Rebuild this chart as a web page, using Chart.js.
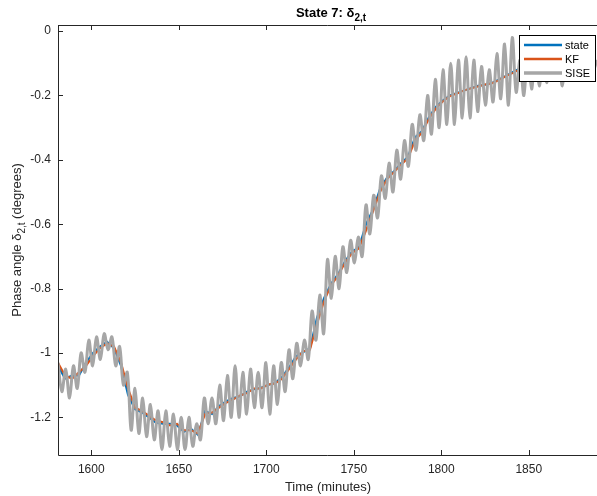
<!DOCTYPE html>
<html>
<head>
<meta charset="utf-8">
<script src="https://cdn.jsdelivr.net/npm/chart.js@4/dist/chart.umd.min.js"></script>
<style>
  html, body { margin: 0; padding: 0; background: #fff; overflow: hidden; }
</style>
</head>
<body>
<canvas id="chart" width="597" height="496"></canvas>
<script>
// time axis (minutes)
const stateStart = 1581, stateStep = 4;
const siseStart = 1581, siseStep = 2.2;
const xTicks = [1600, 1650, 1700, 1750, 1800, 1850];
const yTicks = [0, -0.2, -0.4, -0.6, -0.8, -1, -1.2];

// true state, every 4 min
const stateVals = [
  -1.04, -1.08, -1.07, -1.07, -1.03, -1.00, -0.98, -0.965, -0.985, -1.04,
  -1.13, -1.175, -1.185, -1.20, -1.217, -1.22, -1.22, -1.225, -1.245, -1.235,
  -1.255, -1.18, -1.19, -1.165, -1.15, -1.14, -1.135, -1.12, -1.113, -1.108,
  -1.10, -1.093, -1.075, -1.045, -1.01, -0.998, -0.985, -0.89, -0.83, -0.785,
  -0.755, -0.715, -0.685, -0.672, -0.60, -0.555, -0.49, -0.455, -0.435, -0.41,
  -0.39, -0.33, -0.31, -0.267, -0.235, -0.215, -0.20, -0.192, -0.185, -0.177,
  -0.17, -0.167, -0.161, -0.15, -0.139, -0.127, -0.116, -0.11, -0.108, -0.106,
  -0.104, -0.10, -0.10, -0.098, -0.10, -0.10, -0.098, -0.10
];

// Kalman filter estimate
const kfVals = [
  -1.03, -1.07, -1.08, -1.06, -1.04, -1.01, -0.985, -0.97, -0.98, -1.03,
  -1.11, -1.17, -1.18, -1.195, -1.21, -1.215, -1.225, -1.22, -1.24, -1.24,
  -1.25, -1.19, -1.185, -1.17, -1.155, -1.145, -1.132, -1.125, -1.11, -1.11,
  -1.098, -1.095, -1.08, -1.05, -1.02, -0.995, -0.99, -0.91, -0.84, -0.79,
  -0.76, -0.72, -0.69, -0.675, -0.62, -0.56, -0.50, -0.46, -0.438, -0.415,
  -0.395, -0.34, -0.315, -0.272, -0.24, -0.218, -0.202, -0.194, -0.184, -0.178,
  -0.172, -0.166, -0.162, -0.152, -0.14, -0.13, -0.118, -0.112, -0.107, -0.106,
  -0.103, -0.101, -0.099, -0.099, -0.10, -0.099, -0.099, -0.10
];

// SISE estimate, every 2.2 min
const siseVals = [
  -1.03, -1.12, -1.05, -1.14, -1.04, -1.11, -1.00, -1.06, -0.96, -1.04,
  -0.95, -1.02, -0.94, -0.99, -0.95, -1.04, -0.98, -1.10, -1.06, -1.24,
  -1.11, -1.25, -1.14, -1.26, -1.16, -1.27, -1.18, -1.30, -1.18, -1.29,
  -1.19, -1.30, -1.20, -1.30, -1.20, -1.29, -1.22, -1.27, -1.14, -1.22,
  -1.14, -1.22, -1.10, -1.21, -1.07, -1.20, -1.04, -1.20, -1.06, -1.19,
  -1.05, -1.17, -1.06, -1.17, -1.03, -1.19, -1.04, -1.16, -1.03, -1.12,
  -0.99, -1.08, -0.97, -1.04, -0.96, -1.02, -0.87, -0.96, -0.82, -0.94,
  -0.71, -0.83, -0.70, -0.80, -0.67, -0.75, -0.65, -0.72, -0.64, -0.70,
  -0.54, -0.63, -0.51, -0.58, -0.45, -0.52, -0.41, -0.50, -0.37, -0.46,
  -0.34, -0.42, -0.29, -0.37, -0.26, -0.34, -0.20, -0.32, -0.15, -0.30,
  -0.12, -0.29, -0.10, -0.29, -0.09, -0.27, -0.08, -0.27, -0.09, -0.25,
  -0.11, -0.23, -0.12, -0.22, -0.07, -0.21, -0.04, -0.23, -0.02, -0.19,
  -0.09, -0.20, -0.06, -0.18, -0.07, -0.17, -0.08, -0.16, -0.07, -0.15,
  -0.08, -0.17, -0.07, -0.15, -0.09, -0.14, -0.07, -0.15, -0.04, -0.12, -0.09
];

const toPoints = (vals, start, step) => vals.map((v, i) => ({ x: start + i * step, y: v }));

const FONT = "'Liberation Sans', Arial, Helvetica, sans-serif";
const AXIS = '#262626';
const BLUE = '#0072BD', ORANGE = '#D95319', GRAY = '#A6A6A6';

function drawSub(ctx, parts, x, y, align) {
  // parts: [text, font, dy]
  let w = 0;
  parts.forEach(p => { ctx.font = p[1]; w += ctx.measureText(p[0]).width; });
  let cx = align === 'center' ? x - w / 2 : x;
  ctx.textAlign = 'left';
  parts.forEach(p => {
    ctx.font = p[1];
    ctx.fillText(p[0], cx, y + p[2]);
    cx += ctx.measureText(p[0]).width;
  });
}

const matlabAxes = {
  id: 'matlabAxes',
  afterDraw(chart) {
    const ctx = chart.ctx;
    const a = chart.chartArea;
    const xs = chart.scales.x, ys = chart.scales.y;
    ctx.save();
    ctx.strokeStyle = AXIS;
    ctx.lineWidth = 1;
    ctx.beginPath();
    ctx.moveTo(a.left + 0.5, a.top + 0.5);
    ctx.lineTo(a.right, a.top + 0.5);
    ctx.moveTo(a.left + 0.5, a.top);
    ctx.lineTo(a.left + 0.5, a.bottom + 0.5);
    ctx.lineTo(a.right, a.bottom + 0.5);
    // inward ticks
    xTicks.forEach(t => {
      const px = Math.round(xs.getPixelForValue(t)) + 0.5;
      ctx.moveTo(px, a.bottom);
      ctx.lineTo(px, a.bottom - 5);
      ctx.moveTo(px, a.top);
      ctx.lineTo(px, a.top + 5);
    });
    yTicks.forEach(t => {
      const py = Math.round(ys.getPixelForValue(t)) + 0.5;
      ctx.moveTo(a.left, py);
      ctx.lineTo(a.left + 5, py);
    });
    ctx.stroke();

    ctx.fillStyle = '#000';
    ctx.textBaseline = 'alphabetic';
    // title
    drawSub(ctx, [
      ['State 7: \u03b4', 'bold 13px ' + FONT, 0],
      ['2,t', 'bold 10px ' + FONT, 4]
    ], 331, 17, 'center');

    // x label
    ctx.fillStyle = AXIS;
    ctx.font = '13px ' + FONT;
    ctx.textAlign = 'center';
    ctx.fillText('Time (minutes)', 328, 491);

    // y label
    ctx.save();
    ctx.translate(21, 240);
    ctx.rotate(-Math.PI / 2);
    drawSub(ctx, [
      ['Phase angle \u03b4', '13px ' + FONT, 0],
      ['2,t', '10px ' + FONT, 4],
      [' (degrees)', '13px ' + FONT, 0]
    ], 0, 0, 'center');
    ctx.restore();

    // legend
    const lx = 519, ly = 35, lw = 76, lh = 46;
    ctx.fillStyle = '#fff';
    ctx.fillRect(lx, ly, lw, lh);
    ctx.strokeStyle = '#000';
    ctx.lineWidth = 1;
    ctx.strokeRect(lx + 0.5, ly + 0.5, lw, lh);
    const items = [['state', BLUE, 2.5], ['KF', ORANGE, 2.5], ['SISE', GRAY, 3.5]];
    items.forEach((it, i) => {
      const y = ly + 10 + i * 14;
      ctx.strokeStyle = it[1];
      ctx.lineWidth = it[2];
      ctx.beginPath();
      ctx.moveTo(lx + 5, y);
      ctx.lineTo(lx + 43, y);
      ctx.stroke();
      ctx.fillStyle = '#000';
      ctx.font = '11px ' + FONT;
      ctx.textAlign = 'left';
      ctx.textBaseline = 'middle';
      ctx.fillText(it[0], lx + 46, y + 0.5);
    });
    ctx.restore();
  }
};

new Chart(document.getElementById('chart').getContext('2d'), {
  type: 'line',
  data: {
    datasets: [
      { label: 'state', data: toPoints(stateVals, stateStart, stateStep), borderColor: BLUE, borderWidth: 2, order: 3 },
      { label: 'KF', data: toPoints(kfVals, stateStart, stateStep), borderColor: ORANGE, borderWidth: 2, order: 2 },
      { label: 'SISE', data: toPoints(siseVals, siseStart, siseStep), borderColor: GRAY, borderWidth: 3, order: 1, tension: 0.35 }
    ]
  },
  options: {
    responsive: false,
    animation: false,
    devicePixelRatio: 1,
    layout: { padding: { top: 25, right: 0, left: 0, bottom: 0 } },
    elements: { point: { radius: 0 }, line: { tension: 0, fill: false } },
    plugins: { legend: { display: false }, title: { display: false }, tooltip: { enabled: false } },
    scales: {
      x: {
        type: 'linear', min: 1581, max: 1889,
        grid: { display: false, drawTicks: false, tickLength: 0 }, border: { display: false },
        ticks: { stepSize: 50, includeBounds: false, autoSkip: false, maxRotation: 0, padding: 7,
                 color: AXIS, font: { family: FONT, size: 12 },
                 callback: v => String(v) },
        afterFit(s) { s.height = 41; }
      },
      y: {
        type: 'linear', min: -1.317, max: 0.019,
        grid: { display: false, drawTicks: false, tickLength: 0 }, border: { display: false },
        ticks: { stepSize: 0.2, includeBounds: false, padding: 7, color: AXIS,
                 font: { family: FONT, size: 12 },
                 callback: v => String(Number(v.toFixed(1))) },
        afterFit(s) { s.width = 58; }
      }
    }
  },
  plugins: [matlabAxes]
});
</script>
</body>
</html>
